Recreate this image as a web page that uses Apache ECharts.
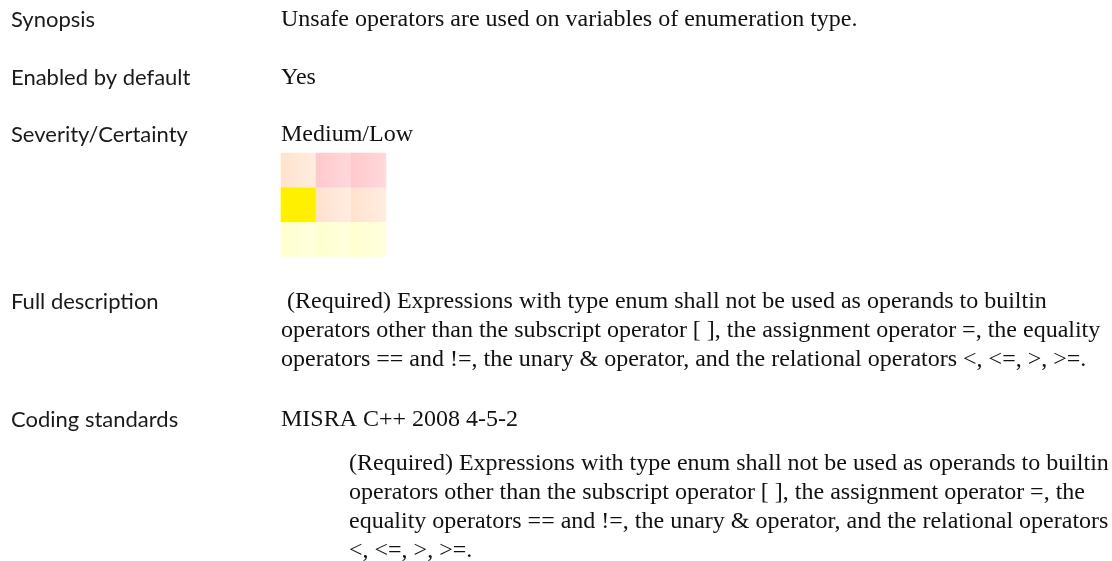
<!DOCTYPE html>
<html>
<head>
<meta charset="utf-8">
<script src="https://cdn.jsdelivr.net/npm/echarts@6/dist/echarts.min.js"></script>
<style>
html,body{margin:0;padding:0;background:#fff;}
#chart{width:1112px;height:561px;}
</style>
</head>
<body>
<div id="chart"></div>
<script>
// ---- data ----
var certaintyCategories = ['Low', 'Medium', 'High'];
var severityCategories = ['Low', 'Medium', 'High'];   // bottom -> top
// risk level per cell: [certaintyIndex, severityIndex, level]
var riskCells = [
  [0, 2, 1], [1, 2, 2], [2, 2, 2],
  [0, 1, 3], [1, 1, 1], [2, 1, 1],
  [0, 0, 0], [1, 0, 0], [2, 0, 0]
];
var levelColorsLeft  = ['#FFFFCF', '#FFE2CE', '#FFC8CC', '#FFF000'];
var levelColorsRight = ['#FFFFDE', '#FFEDE0', '#FFD9DB', '#FFF000'];

var rowLabels = ['Synopsis', 'Enabled by default', 'Severity/Certainty', 'Full description', 'Coding standards'];
var rowValues = [
  ['Unsafe operators are used on variables of enumeration type.'],
  ['Yes'],
  ['Medium/Low'],
  [' (Required) Expressions with type enum shall not be used as operands to builtin',
   'operators other than the subscript operator [ ], the assignment operator =, the equality',
   'operators == and !=, the unary & operator, and the relational operators <, <=, >, >=.'],
  ['MISRA C++ 2008 4-5-2']
];
var standardText = [
  '(Required) Expressions with type enum shall not be used as operands to builtin',
  'operators other than the subscript operator [ ], the assignment operator =, the',
  'equality operators == and !=, the unary & operator, and the relational operators',
  '<, <=, >, >=.'
];

// ---- layout ----
var rowY = [20, 78, 135, 302, 420];
var standardY = 464;
var labelX = 11, valueX = 281, indentX = 349, lineH = 29;
var labelFont = '22px Lato, "Open Sans", sans-serif';
var valueFont = '24px "Liberation Serif", "DejaVu Serif", serif';

var graphics = [];
rowLabels.forEach(function (lab, i) {
  graphics.push({type: 'text', x: labelX, y: rowY[i],
    style: {text: lab, font: labelFont, fill: '#1a1a1a', textVerticalAlign: 'middle'}});
  rowValues[i].forEach(function (line, j) {
    graphics.push({type: 'text', x: valueX, y: rowY[i] + j * lineH,
      style: {text: line, font: valueFont, fill: '#111', textVerticalAlign: 'middle'}});
  });
});
standardText.forEach(function (line, j) {
  graphics.push({type: 'text', x: indentX, y: standardY + j * lineH,
    style: {text: line, font: valueFont, fill: '#111', textVerticalAlign: 'middle'}});
});

var chart = echarts.init(document.getElementById('chart'), null, {renderer: 'canvas'});
chart.setOption({
  animation: false,
  backgroundColor: '#fff',
  grid: {left: 281, top: 153, width: 105, height: 104},
  xAxis: {type: 'category', data: certaintyCategories, show: false},
  yAxis: {type: 'category', data: severityCategories, show: false},
  series: [{
    type: 'heatmap',
    data: riskCells,
    itemStyle: {
      borderWidth: 0,
      color: function (p) {
        var lv = p.value[2];
        return new echarts.graphic.LinearGradient(0, 0, 1, 0, [
          {offset: 0, color: levelColorsLeft[lv]},
          {offset: 1, color: levelColorsRight[lv]}
        ]);
      }
    },
    emphasis: {disabled: true}
  }],
  graphic: graphics
});
</script>
</body>
</html>
